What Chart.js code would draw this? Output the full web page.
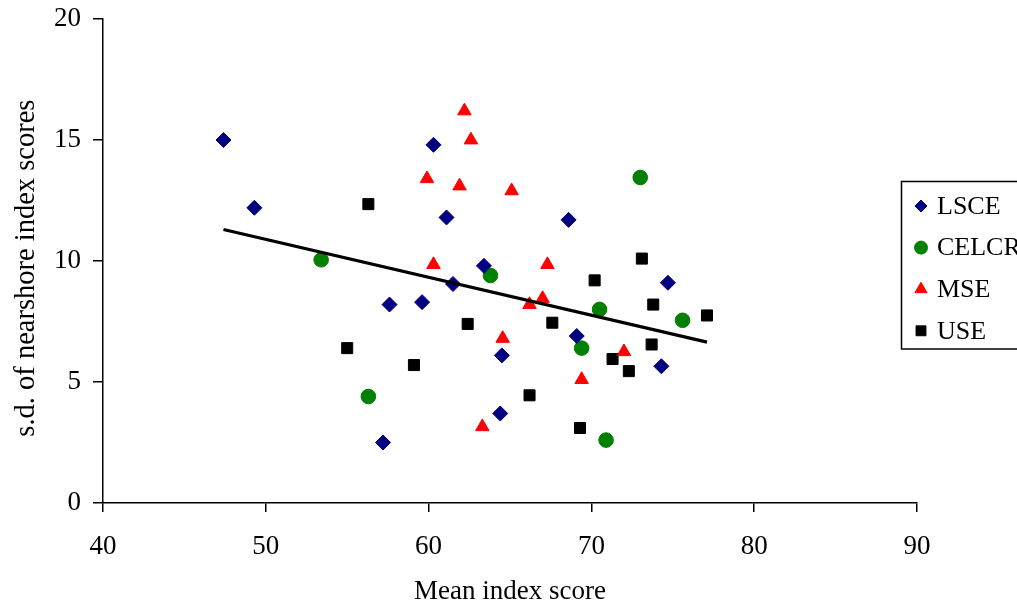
<!DOCTYPE html>
<html>
<head>
<meta charset="utf-8">
<script src="https://cdn.jsdelivr.net/npm/chart.js"></script>
<style>
  html, body { margin: 0; padding: 0; background: #fff; overflow: hidden; }
  #wrap { width: 1017px; height: 611px; }
</style>
</head>
<body>
<div id="wrap"><canvas id="scatterCanvas" width="1017" height="611"></canvas></div>
<script>
// values: [mean index score, s.d.]
const lsce = [
  [47.4, 15.0], [49.3, 12.2], [57.2, 2.5], [57.6, 8.2], [59.6, 8.3],
  [60.3, 14.8], [61.1, 11.8], [61.5, 9.05], [63.4, 9.8], [64.4, 3.7],
  [64.5, 6.1], [68.6, 11.7], [69.1, 6.9], [74.3, 5.65], [74.7, 9.1]
];
const celcr = [
  [53.4, 10.05], [56.3, 4.4], [63.8, 9.4], [69.4, 6.4],
  [70.5, 8.0], [70.9, 2.6], [73.0, 13.45], [75.6, 7.55]
];
const mse = [
  [59.9, 13.4], [60.3, 9.85], [61.9, 13.1], [62.2, 16.2], [62.6, 15.0],
  [63.3, 3.15], [64.55, 6.8], [65.1, 12.9], [66.2, 8.2], [67.0, 8.45],
  [67.3, 9.85], [69.4, 5.1], [72.0, 6.25]
];
const use = [
  [55.0, 6.4], [56.3, 12.35], [59.1, 5.7], [62.4, 7.4], [66.2, 4.45],
  [67.6, 7.45], [69.3, 3.1], [70.2, 9.2], [71.3, 5.95], [72.3, 5.45],
  [73.1, 10.1], [73.7, 6.55], [73.8, 8.2], [77.1, 7.75]
];
const trend = [[47.4, 11.3], [77.1, 6.65]];

const xTicks = [40, 50, 60, 70, 80, 90];
const yTicks = [0, 5, 10, 15, 20];

const toPoints = arr => arr.map(p => ({ x: p[0], y: p[1] }));
const serif = 'Liberation Serif, Times New Roman, serif';

// legend box drawn by hand so it can sit half off the canvas edge
const boxLegend = {
  id: 'boxLegend',
  afterDraw(chart) {
    const ctx = chart.ctx;
    const rows = chart.data.datasets.filter(d => d.inLegend);
    ctx.save();
    ctx.strokeStyle = '#000';
    ctx.lineWidth = 1.5;
    ctx.strokeRect(901.5, 181.5, 200, 167.5);
    ctx.font = '26px ' + serif;
    ctx.textBaseline = 'middle';
    ctx.textAlign = 'left';
    rows.forEach((d, i) => {
      const y = 206 + i * 41.6;
      ctx.fillStyle = d.backgroundColor;
      ctx.strokeStyle = d.backgroundColor;
      ctx.lineWidth = 1;
      Chart.helpers.drawPoint(ctx, {
        pointStyle: d.pointStyle,
        radius: d.legendRadius,
        borderWidth: 1
      }, 921, y);
      ctx.fillStyle = '#000';
      ctx.fillText(d.label, 937, y + 1);
    });
    ctx.restore();
  }
};

new Chart(document.getElementById('scatterCanvas'), {
  type: 'scatter',
  data: {
    datasets: [
      {
        label: 'Trend',
        type: 'line',
        data: toPoints(trend),
        borderColor: '#000',
        borderWidth: 3.2,
        pointRadius: 0,
        fill: false
      },
      {
        label: 'LSCE',
        data: toPoints(lsce),
        pointStyle: 'rectRot',
        pointRadius: 7.5,
        backgroundColor: '#000080',
        borderColor: '#000080',
        inLegend: true,
        legendRadius: 6
      },
      {
        label: 'CELCR',
        data: toPoints(celcr),
        pointStyle: 'circle',
        pointRadius: 7.3,
        backgroundColor: '#008000',
        borderColor: '#008000',
        inLegend: true,
        legendRadius: 6.5
      },
      {
        label: 'MSE',
        data: toPoints(mse),
        pointStyle: 'triangle',
        pointRadius: 7.8,
        backgroundColor: '#ff0000',
        borderColor: '#ff0000',
        inLegend: true,
        legendRadius: 7
      },
      {
        label: 'USE',
        data: toPoints(use),
        pointStyle: 'rect',
        pointRadius: 7.8,
        backgroundColor: '#000000',
        borderColor: '#000000',
        inLegend: true,
        legendRadius: 7
      }
    ]
  },
  options: {
    responsive: false,
    animation: false,
    layout: { padding: { left: 0, top: 19, right: 100, bottom: 0 } },
    plugins: {
      legend: { display: false },
      tooltip: { enabled: false }
    },
    scales: {
      x: {
        type: 'linear',
        min: 40,
        max: 90,
        afterFit: scale => {
          scale.height = 108;
          scale.paddingLeft = 0;
          scale.paddingRight = 0;
        },
        afterBuildTicks: scale => { scale.ticks = xTicks.map(v => ({ value: v })); },
        grid: { drawOnChartArea: false, drawTicks: true, tickLength: 9, color: '#000', lineWidth: 1.5 },
        border: { display: true, color: '#000', width: 1.5 },
        ticks: { color: '#000', padding: 19, font: { family: serif, size: 27 }, maxRotation: 0 },
        title: {
          display: true,
          text: 'Mean index score',
          color: '#000',
          font: { family: serif, size: 27 },
          padding: { top: 0, bottom: 3 }
        }
      },
      y: {
        type: 'linear',
        min: 0,
        max: 20,
        afterFit: scale => {
          scale.width = 103;
          scale.paddingTop = 0;
          scale.paddingBottom = 0;
        },
        afterBuildTicks: scale => { scale.ticks = yTicks.map(v => ({ value: v })); },
        grid: { drawOnChartArea: false, drawTicks: true, tickLength: 10, color: '#000', lineWidth: 1.5 },
        border: { display: true, color: '#000', width: 1.5 },
        ticks: { color: '#000', padding: 12, font: { family: serif, size: 27 } },
        title: {
          display: true,
          text: 's.d. of nearshore index scores  ',
          color: '#000',
          font: { family: serif, size: 28.5 },
          padding: { top: 9, bottom: 0 }
        }
      }
    }
  },
  plugins: [boxLegend]
});
</script>
</body>
</html>
